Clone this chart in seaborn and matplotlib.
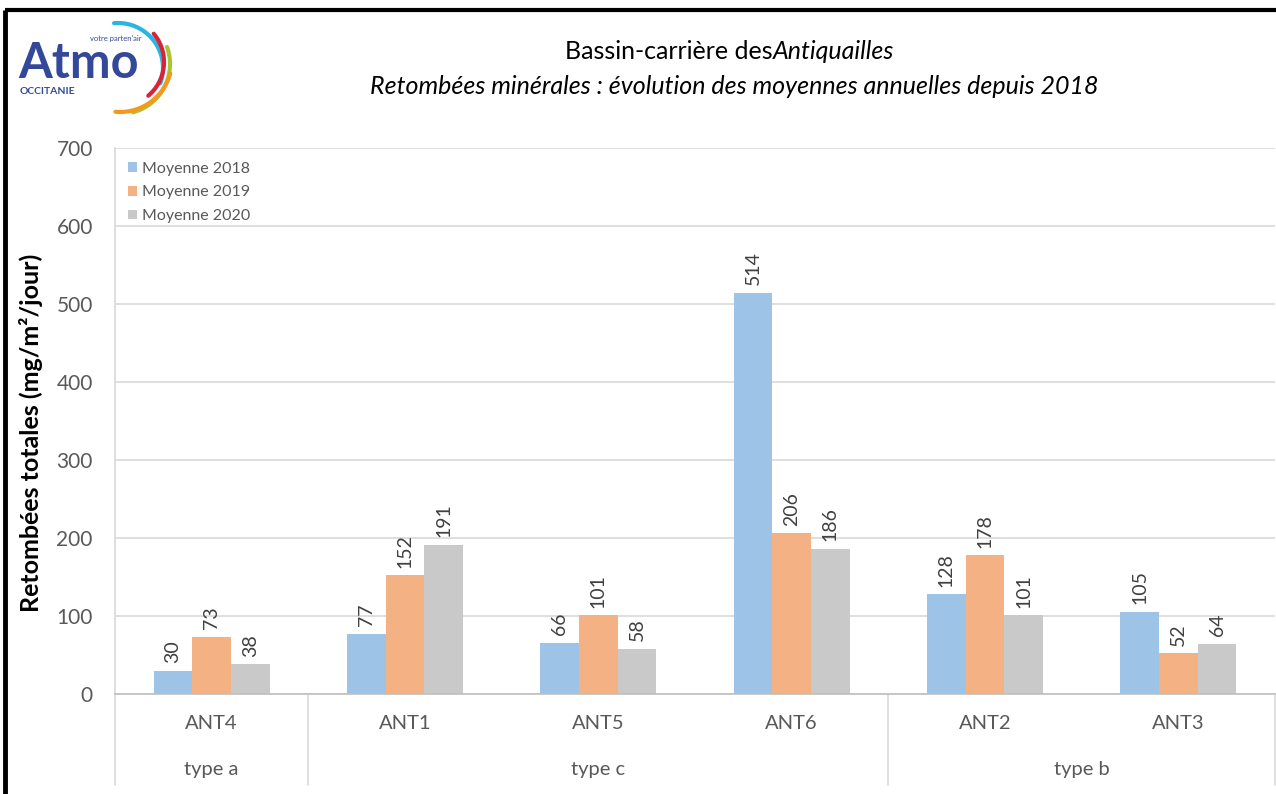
import numpy as np
import pandas as pd
import matplotlib
matplotlib.use("Agg")
import matplotlib.pyplot as plt
import matplotlib.transforms as mtransforms
import seaborn as sns

# ---------------- data ----------------
stations = ["ANT4", "ANT1", "ANT5", "ANT6", "ANT2", "ANT3"]
series = ["Moyenne 2018", "Moyenne 2019", "Moyenne 2020"]
moy_2018 = [30, 77, 66, 514, 128, 105]
moy_2019 = [73, 152, 101, 206, 178, 52]
moy_2020 = [38, 191, 58, 186, 101, 64]
group_names = ["type a", "type c", "type b"]
group_sizes = [1, 3, 2]
yticks = [0, 100, 200, 300, 400, 500, 600, 700]

colors = ["#9DC3E6", "#F4B183", "#C9C9C9"]

df = pd.DataFrame({
    "station": stations * 3,
    "serie": [s for s in series for _ in stations],
    "value": moy_2018 + moy_2019 + moy_2020,
})

sns.set_theme(style="white")
plt.rcParams["font.family"] = ["Lato", "DejaVu Sans"]

W, H = 1276, 794
fig = plt.figure(figsize=(W / 100, H / 100), dpi=100)
fig.patch.set_facecolor("white")

ax = fig.add_axes([115 / W, 1 - 694 / H, 1160 / W, 546 / H])
sns.barplot(data=df, x="station", y="value", hue="serie", order=stations,
            hue_order=series, palette=colors, width=0.6, gap=0,
            saturation=1, errorbar=None, ax=ax, legend=True, linewidth=0)

ax.set_xlim(-0.5, len(stations) - 0.5)
ax.set_ylim(0, 700)
ax.set_yticks(yticks)
ax.set_yticklabels([str(v) for v in yticks], fontsize=15, color="#595959")
ax.tick_params(axis="y", length=0, pad=16)
ax.tick_params(axis="x", length=0, pad=15, labelsize=14.5, labelcolor="#595959")
ax.set_xlabel("")
ax.set_ylabel("Retombées totales (mg/m²/jour)", fontsize=18, fontweight="bold",
              color="black")
ax.yaxis.set_label_coords((43 - 115) / 1160, (694 - 433) / 546)
ax.yaxis.grid(True, color="#D9D9D9", linewidth=1.2)
ax.set_axisbelow(True)
for s in ["top", "right"]:
    ax.spines[s].set_visible(False)
ax.spines["left"].set_color("#D9D9D9")
ax.spines["bottom"].set_color("#BFBFBF")
ax.spines["bottom"].set_linewidth(1.2)

for cont in ax.containers:
    ax.bar_label(cont, labels=[f"{b.get_height():.0f}" for b in cont],
                 rotation=90, padding=5.5, fontsize=14, color="#404040")

# legend
leg = ax.legend(loc="upper left", bbox_to_anchor=(0.0, 0.998), frameon=False,
                fontsize=11.5, handlelength=0.55, handleheight=0.55,
                handletextpad=0.35, labelspacing=0.6, borderaxespad=0.4)
for t in leg.get_texts():
    t.set_color("#595959")

# category separators and group labels
trans = mtransforms.blended_transform_factory(ax.transData, ax.transAxes)
bounds = np.cumsum([0] + group_sizes) - 0.5
for b in bounds:
    ax.plot([b, b], [0, -0.167], transform=trans, color="#D9D9D9",
            linewidth=1.2, clip_on=False)
for name, lo, hi in zip(group_names, bounds[:-1], bounds[1:]):
    ax.text((lo + hi) / 2, -0.139, name, transform=trans, ha="center",
            va="center", fontsize=14.5, color="#595959")

# ---------------- overlay: border, title, logo ----------------
ov = fig.add_axes([0, 0, 1, 1], facecolor="none")
ov.set_xlim(0, W)
ov.set_ylim(H, 0)
ov.axis("off")
ov.plot([5, W], [10, 10], color="black", linewidth=3, solid_capstyle="butt")
ov.plot([5, 5], [10, H], color="black", linewidth=3.5, solid_capstyle="butt")

ov.text(773, 59, "Bassin-carrière des", ha="right", va="baseline",
        fontsize=18, color="black")
ov.text(773, 59, "Antiquailles", ha="left", va="baseline", fontsize=18,
        style="italic", color="black")
ov.text(734, 94, "Retombées minérales : évolution des moyennes annuelles depuis 2018",
        ha="center", va="baseline", fontsize=18, style="italic", color="black")

# logo
ov.text(18, 64, "Atmo", ha="left", va="center", fontsize=35, fontweight="bold",
        color="#34489A")
ov.text(142, 38, "votre parten'air", ha="right", va="center", fontsize=5.5,
        color="#34489A")
ov.text(20, 91, "OCCITANIE", ha="left", va="center", fontsize=7.5,
        fontweight="bold", color="#34489A")
arcs = [
    ((118, 68), 45, 95, -20, "#2AB4E2"),
    ((120, 62), 44, 40, -50, "#D8233A"),
    ((120, 64), 50, 20, -75, "#A9C52F"),
    ((120, 60), 52, -15, -95, "#F39A1E"),
]
for (cx, cy), r, t0, t1, col in arcs:
    t = np.radians(np.linspace(t0, t1, 60))
    ov.plot(cx + r * np.cos(t), cy - r * np.sin(t), color=col, linewidth=3,
            solid_capstyle="round")

fig.savefig("out.png", dpi=100)
